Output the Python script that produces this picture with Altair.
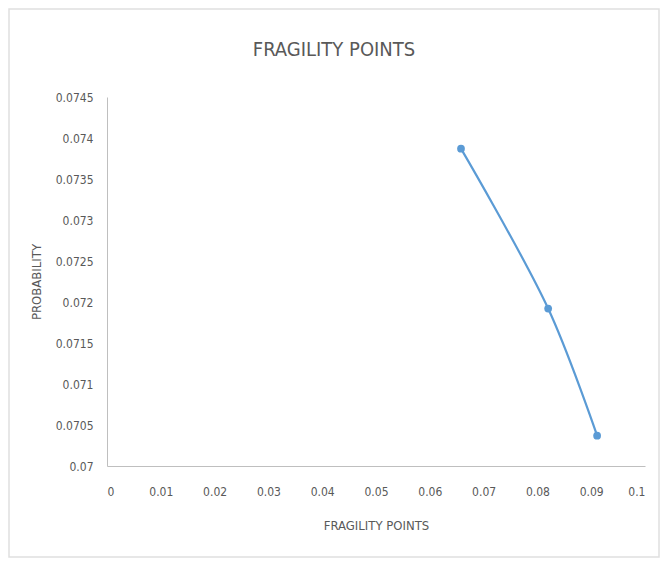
import altair as alt
import pandas as pd

fragility = [0.0658, 0.0820, 0.0911]
probability = [0.07387, 0.07192, 0.07037]

x_ticks = [0, 0.01, 0.02, 0.03, 0.04, 0.05, 0.06, 0.07, 0.08, 0.09, 0.1]
y_ticks = [0.07, 0.0705, 0.071, 0.0715, 0.072, 0.0725, 0.073, 0.0735, 0.074, 0.0745]

df = pd.DataFrame({"x": fragility, "y": probability})

FONT = "Liberation Sans Narrow, DejaVu Sans Condensed, sans-serif"
GRAY = "#595959"

x_enc = alt.X("x:Q", scale=alt.Scale(domain=[0, 0.1], nice=False, zero=False),
              axis=alt.Axis(values=x_ticks, title="FRAGILITY POINTS", grid=False, ticks=False,
                            domainColor="#bfbfbf", labelColor=GRAY, titleColor=GRAY,
                            labelFont=FONT, titleFont=FONT, labelFontSize=12, titleFontSize=13,
                            titleFontWeight="normal", labelPadding=20, titlePadding=22,
                            labelExpr="datum.value == 0 ? '0' : format(datum.value, '.2~f')"))
y_enc = alt.Y("y:Q", scale=alt.Scale(domain=[0.07, 0.0745], nice=False, zero=False),
              axis=alt.Axis(values=y_ticks, title="PROBABILITY", grid=False, ticks=False,
                            domainColor="#bfbfbf", labelColor=GRAY, titleColor=GRAY,
                            labelFont=FONT, titleFont=FONT, labelFontSize=12, titleFontSize=13,
                            titleFontWeight="normal", labelPadding=14, titlePadding=12,
                            labelExpr="format(datum.value, '.4~f')"))

line = alt.Chart(df).mark_line(color="#5b9bd5", strokeWidth=2.2, interpolate="catmull-rom").encode(x=x_enc, y=y_enc)
pts = alt.Chart(df).mark_point(filled=True, color="#5b9bd5", size=60, opacity=1).encode(x=x_enc, y=y_enc)

border = alt.Chart(pd.DataFrame({"a": [0]})).mark_rect(
    fill="transparent", stroke="#e0e0e0", strokeWidth=1.5, clip=False
).encode(x=alt.value(-98), x2=alt.value(552), y=alt.value(-88), y2=alt.value(460))

chart = alt.layer(border, line, pts).properties(
    width=538, height=369,
    background="white",
    title=alt.TitleParams("FRAGILITY POINTS", font=FONT, fontSize=20, fontWeight="normal",
                          color=GRAY, anchor="middle", frame="bounds", offset=-52),
    autosize=alt.AutoSizeParams(type="none"),
    padding={"left": 99, "top": 89, "right": 15, "bottom": 92},
).configure_view(strokeWidth=0, stroke="transparent")

chart.save("out.html", embed_options={"renderer": "svg", "actions": False})
